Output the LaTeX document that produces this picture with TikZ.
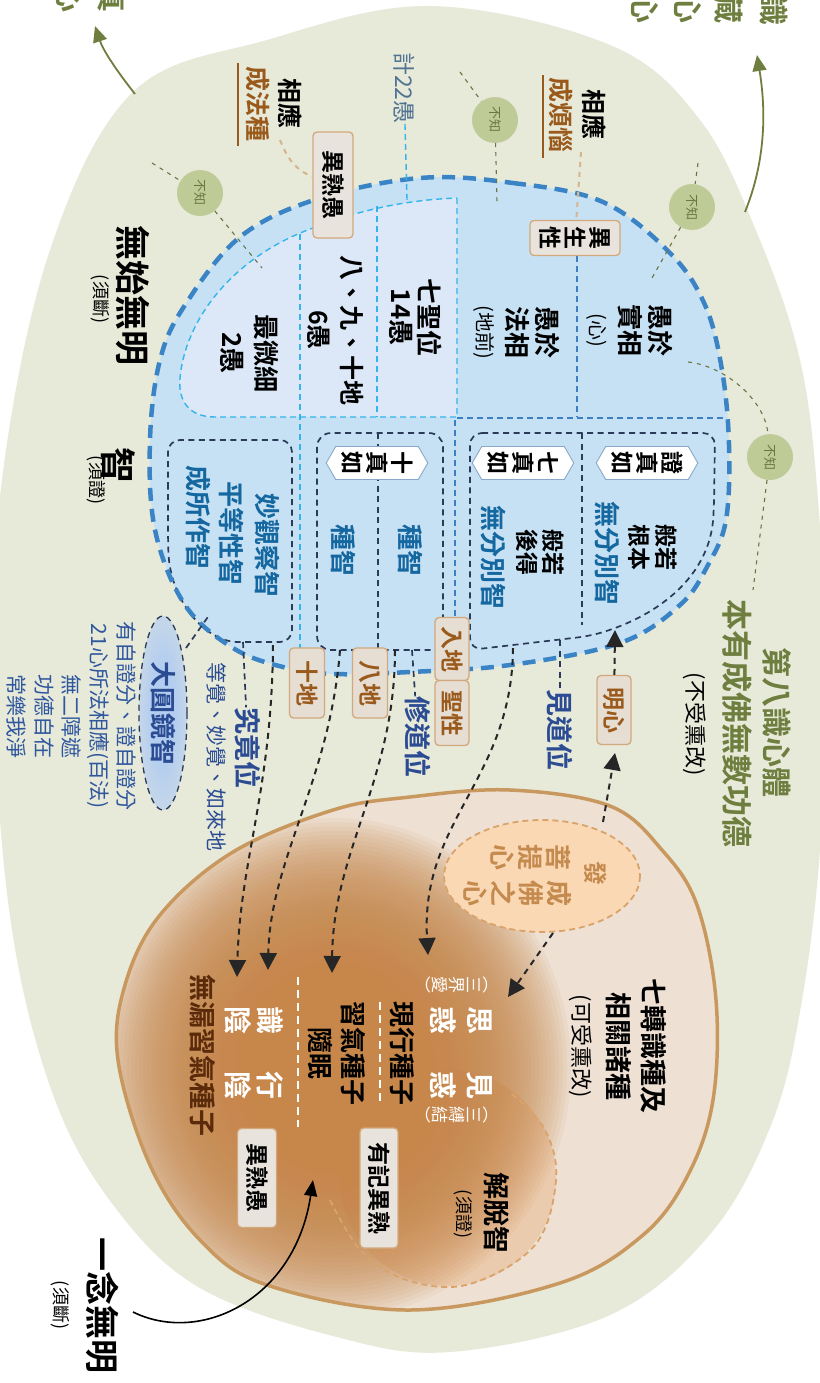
\documentclass[tikz,border=0pt]{standalone}
\usepackage{fontspec}
\setmainfont{Noto Sans CJK TC}[BoldFont={Noto Sans CJK TC Bold}]
\usetikzlibrary{arrows.meta,shapes.symbols}
\definecolor{beige}{HTML}{E7E9D9}
\definecolor{olivec}{HTML}{6E7E3E}
\definecolor{olivedk}{HTML}{6A7546}
\definecolor{bzin}{HTML}{BFCB97}
\definecolor{bluefill}{HTML}{C6E1F4}
\definecolor{lightin}{HTML}{DCE8F7}
\definecolor{borderblue}{HTML}{3A84C6}
\definecolor{cyanc}{HTML}{33B5EC}
\definecolor{midblue}{HTML}{3D7FC3}
\definecolor{navyc}{HTML}{2A3A58}
\definecolor{textblue}{HTML}{15679F}
\definecolor{darkblue}{HTML}{2B4C93}
\definecolor{listblue}{HTML}{2F579E}
\definecolor{hexborder}{HTML}{8AA8C8}
\definecolor{tanborder}{HTML}{D2A97C}
\definecolor{tanfill}{HTML}{E6DDD3}
\definecolor{grayfill}{HTML}{E8E3DC}
\definecolor{brownt}{HTML}{9A5A1C}
\definecolor{tanlc}{HTML}{D6B48C}
\definecolor{brownfill}{HTML}{EEE0D3}
\definecolor{brownborder}{HTML}{C9985E}
\definecolor{browncore}{HTML}{C7874A}
\definecolor{peach}{HTML}{FAD8B4}
\definecolor{peachdash}{HTML}{D9A36A}
\definecolor{peachtxt}{HTML}{C48A4E}
\definecolor{jtfill}{HTML}{EBCBAD}
\definecolor{darkbr}{HTML}{5A2A0A}
\definecolor{dyin}{HTML}{B3CDF0}
\definecolor{calcc}{HTML}{4F7391}
\newcommand\myfs[2]{\fontsize{#1}{#2}\selectfont}
\pgfdeclareradialshading{bzshade}{\pgfpoint{0bp}{0bp}}{color(0bp)=(bzin); color(24bp)=(bzin); color(50bp)=(beige)}
\pgfdeclareradialshading{dyshade}{\pgfpoint{0bp}{0bp}}{color(0bp)=(dyin); color(12bp)=(dyin); color(50bp)=(beige)}
\begin{document}
\begin{tikzpicture}[x=1pt,y=-1pt,
  vtxt/.style={rotate=-90, inner sep=0pt, align=center},
  blk/.style={vtxt, text=black, font=\myfs{26}{30}\bfseries},
  bluet/.style={vtxt, text=textblue, font=\myfs{26}{30}\bfseries},
  tanbox/.style={rotate=-90, draw=tanborder, fill=tanfill, line width=1.3pt, rounded corners=4pt, inner sep=0pt, align=center, text=brownt, font=\myfs{23}{25}\bfseries},
  graybox/.style={tanbox, text=black, fill=grayfill},
  hexlab/.style={rotate=-90, shape=signal, signal to=north and south, signal pointer angle=120, draw=hexborder, fill=white, line width=0.9pt, inner sep=1pt, align=center, font=\myfs{23}{25}\bfseries, minimum width=33pt, minimum height=97pt},
  navydash/.style={draw=navyc, line width=1.7pt, dash pattern=on 6pt off 4.5pt},
  cyandash/.style={draw=cyanc, line width=1.4pt, dash pattern=on 6pt off 4pt},
  middash/.style={draw=midblue, line width=1.6pt, dash pattern=on 6pt off 4pt},
  bluedash/.style={draw=borderblue, line width=4.5pt, dash pattern=on 13pt off 8pt},
  bzline/.style={draw=olivedk, line width=1.1pt, dash pattern=on 4pt off 5pt},
  tandash/.style={draw=tanlc, line width=2pt, dash pattern=on 5pt off 5pt},
  arrowdash/.style={draw=black!85, line width=2pt, dash pattern=on 6pt off 5pt, -{Triangle[length=17pt,width=17pt]}},
  olivearrow/.style={draw=olivec, line width=1.8pt, -{Triangle[length=16pt,width=14pt]}},
  bzcirc/.style={circle, minimum size=46pt, inner sep=0pt, shading=bzshade, rotate=-90, text=olivedk, font=\myfs{13}{14}},
]
\useasboundingbox (0,0) rectangle (819,1383);
\fill[white] (0,0) rectangle (819,1383);
% ---------- beige field
\fill[beige] plot[smooth cycle, tension=0.6] coordinates {(430,6) (610,45) (700,120) (757,233) (800,360) (818,500) (826,680) (820,850) (802,1000) (773,1120) (712,1232) (610,1315) (450,1352) (333,1336) (200,1288) (117,1210) (55,1100) (12,930) (-6,700) (2,480) (50,250) (133,92) (267,40)};
% ---------- olive arrows and cut texts
\coordinate (la0) at (135,94); \coordinate (la1) at (95,26);
\draw[olivearrow] (la0) .. controls (116,70) and (103,50) .. (la1);
\coordinate (ra0) at (745,212); \coordinate (ra1) at (757,55);
\draw[olivearrow] (ra0) .. controls (766,160) and (766,110) .. (ra1);
\node[vtxt, text=olivec, font=\myfs{30}{30}\bfseries] (tl1) at (70,-2) {心};
\node[vtxt, text=olivec, font=\myfs{30}{30}\bfseries] (tl2) at (112,-2) {真};
\node[vtxt, text=olivec, font=\myfs{30}{30}\bfseries] (tr1) at (645,9) {心};
\node[vtxt, text=olivec, font=\myfs{30}{30}\bfseries] (tr2) at (688,9) {心};
\node[vtxt, text=olivec, font=\myfs{30}{30}\bfseries] (tr3) at (729,9) {藏};
\node[vtxt, text=olivec, font=\myfs{30}{30}\bfseries] (tr4) at (774,11) {識};
% ---------- blue region
\fill[bluefill] plot[smooth cycle, tension=0.6] coordinates {(420,178) (513,183) (603,202) (670,253) (705,305) (722,370) (729,445) (726,520) (708,565) (680,605) (620,643) (510,665) (410,672) (333,674) (283,667) (233,648) (185,605) (155,530) (150,440) (160,360) (185,305) (240,237) (317,199)};
\path[fill=lightin, cyandash] (457,198) -- (457,417) -- (215,417) .. controls (188,417) and (178,400) .. (180,378) .. controls (185,322) and (230,258) .. (313,228) .. controls (360,210) and (405,200) .. (457,198) -- cycle;
\coordinate (d1a) at (300,234); \coordinate (d1b) at (300,648);
\draw[cyandash] (d1a) -- (d1b);
\coordinate (d2a) at (377,206); \coordinate (d2b) at (377,417);
\draw[cyandash] (d2a) -- (d2b);
\coordinate (d3a) at (577,256); \coordinate (d3b) at (577,417);
\draw[middash] (d3a) -- (d3b);
\coordinate (h1a) at (457,418); \coordinate (h1b) at (726,418);
\draw[middash] (h1a) -- (h1b);
\coordinate (d4a) at (455,420); \coordinate (d4b) at (455,617);
\draw[middash] (d4a) -- (d4b);
% navy boxes
\draw[navydash, rounded corners=12pt] (168,500) -- (168,440) -- (292,440) -- (292,642) -- (250,642) .. controls (205,642) and (170,600) .. (168,540) -- cycle;
\draw[navydash, rounded corners=14pt] (317,433) rectangle (443,650);
\coordinate (bda) at (378,433); \coordinate (bdb) at (378,650);
\draw[navydash] (bda) -- (bdb);
\draw[navydash, rounded corners=12pt] (470,433) -- (715,433) -- (714,505) .. controls (710,575) and (660,615) .. (590,636) -- (470,650) -- cycle;
\coordinate (ada) at (582,433); \coordinate (adb) at (582,625);
\draw[navydash] (ada) -- (adb);
% blue border
\draw[bluedash] plot[smooth cycle, tension=0.6] coordinates {(420,178) (513,183) (603,202) (670,253) (705,305) (722,370) (729,445) (726,520) (708,565) (680,605) (620,643) (510,665) (410,672) (333,674) (283,667) (233,648) (185,605) (155,530) (150,440) (160,360) (185,305) (240,237) (317,199)};
% ---------- "不知" circles
\node[bzcirc] (bz1) at (200,193) {不知};
\node[bzcirc] (bz2) at (495,120) {不知};
\node[bzcirc] (bz3) at (692,207) {不知};
\node[bzcirc] (bz4) at (770,457) {不知};
\coordinate (bza0) at (152,163); \coordinate (bza1) at (262,268);
\draw[bzline] (bza0) -- (bz1); \draw[bzline] (bz1) -- (bza1);
\coordinate (bzb0) at (460,72); \coordinate (bzb1) at (497,202);
\draw[bzline] (bzb0) -- (bz2); \draw[bzline] (bz2) -- (bzb1);
\coordinate (bzc0) at (698,163); \coordinate (bzc1) at (652,278);
\draw[bzline] (bzc0) -- (bz3); \draw[bzline] (bz3) -- (bzc1);
\coordinate (bzd0) at (688,362); \coordinate (bzd1) at (753,590);
\draw[bzline] (bzd0) .. controls (725,366) and (765,400) .. (bz4); \draw[bzline] (bz4) -- (bzd1);
% ---------- upper labels
\node[vtxt, font=\myfs{25}{32}\bfseries] (xyfz) at (274,104) {相應\\\textcolor{brownt}{成法種}};
\coordinate (ul1a) at (238,63); \coordinate (ul1b) at (238,146);
\draw[brownt, line width=2pt] (ul1a) -- (ul1b);
\node[vtxt, font=\myfs{25}{33}\bfseries] (xyfn) at (578,115) {相應\\\textcolor{brownt}{成煩惱}};
\coordinate (ul2a) at (543,75); \coordinate (ul2b) at (543,158);
\draw[brownt, line width=2pt] (ul2a) -- (ul2b);
\node[vtxt, text=calcc, font=\myfs{23}{25}] (ji22) at (404,88) {計22愚};
\coordinate (j22b) at (407,200);
\draw[cyandash] (ji22) -- (j22b);
\node[tanbox, text=black, fill=grayfill, minimum width=106pt, minimum height=40pt] (ysy1) at (333,185) {異熟愚};
\node[tanbox, text=black, fill=grayfill, minimum width=35pt, minimum height=90pt] (ysx) at (575,238) {異\\生\\性};
\coordinate (tl1a) at (280,140);
\draw[tandash] (tl1a) .. controls (288,160) and (296,170) .. (ysy1);
\coordinate (tl2a) at (581,152);
\draw[tandash] (tl2a) -- (ysx);
\node[vtxt, font=\myfs{35}{38}\bfseries] (wswm) at (133,295) {無始無明};
\node[vtxt, font=\myfs{18}{20}] (xd1) at (100,299) {(須斷)};
\node[vtxt, font=\myfs{36}{38}\bfseries] (zhi) at (118,465) {智};
\node[vtxt, font=\myfs{18}{20}] (xz1) at (96,480) {(須證)};
\node[vtxt, text=olivec, font=\myfs{30}{32}\bfseries] (dbs) at (777,722) {第八識心體};
\node[vtxt, text=olivec, font=\myfs{31}{33}\bfseries] (byc) at (737,723) {本有成佛無數功德};
\node[vtxt, font=\myfs{22}{24}] (bsxg) at (695,724) {(不受熏改)};
% ---------- blue region texts
\node[blk, font=\myfs{26}{34}\bfseries] (zws) at (250,353) {最微細\\2愚};
\node[blk, font=\myfs{25}{33}\bfseries] (bjs) at (336,330) {八、九、十地\\6愚};
\node[blk, font=\myfs{26}{28}\bfseries] (qsw) at (416,317) {七聖位\\14愚};
\node[blk, font=\myfs{26}{30}\bfseries] (yfx) at (517,332) {愚於\\法相\\{\mdseries\myfs{20}{30}(地前)}};
\node[blk, font=\myfs{26}{30}\bfseries] (ysxx) at (630,330) {愚於\\實相\\{\mdseries\myfs{20}{30}(心)}};
\node[hexlab] (hx1) at (377,463) {十\\真\\如};
\node[hexlab] (hx2) at (523,463) {七\\真\\如};
\node[hexlab] (hx3) at (647,463) {證\\真\\如};
\node[bluet] (zz1) at (343,550) {種智};
\node[bluet] (zz2) at (410,550) {種智};
\node[blk, font=\myfs{23}{27}\bfseries] (bgg) at (653,547) {般若\\根本};
\node[bluet] (wf1) at (607,553) {無分別智};
\node[blk, font=\myfs{23}{26}\bfseries] (bgh) at (540,552) {般若\\後得};
\node[bluet] (wf2) at (493,557) {無分別智};
\node[bluet] (mgc) at (267,545) {妙觀察智};
\node[bluet] (pdx) at (232,533) {平等性智};
\node[bluet] (csz) at (198,517) {成所作智};
% ---------- below blue
\node[tanbox, minimum width=70pt, minimum height=35pt] (sd) at (307,683) {十地};
\node[tanbox, minimum width=70pt, minimum height=35pt] (bd) at (370,683) {八地};
\node[tanbox, minimum width=63pt, minimum height=34pt] (rd) at (452,649) {入地};
\node[tanbox, minimum width=65pt, minimum height=34pt] (sxx) at (452,713) {聖性};
\node[tanbox, minimum width=69pt, minimum height=34pt] (mx) at (614,710) {明心};
\node[vtxt, text=darkblue, font=\myfs{27}{30}\bfseries] (jdw) at (560,730) {見道位};
\node[vtxt, text=darkblue, font=\myfs{27}{30}\bfseries] (xdw) at (418,737) {修道位};
\node[vtxt, text=darkblue, font=\myfs{27}{30}\bfseries] (jjw) at (248,748) {究竟位};
\node[vtxt, text=darkblue, font=\myfs{21}{24}] (djm) at (217,757) {等覺、妙覺、如來地};
\shade[shading=dyshade] (163,713) ellipse [x radius=24, y radius=97];
\draw[navydash, line width=1.3pt] (163,713) ellipse [x radius=24, y radius=97];
\node[vtxt, text=darkblue, font=\myfs{26}{28}\bfseries] (dyj) at (163,713) {大圓鏡智};
\node[vtxt, text=listblue, font=\myfs{21}{27.5}] (lst) at (72,716) {有自證分、證自證分\\21心所法相應(百法)\\無二障遮\\功德自在\\常樂我淨};
% short links
\coordinate (ja) at (560,640); \draw[navydash] (ja) -- (jdw);
\coordinate (xa) at (412,650); \draw[navydash] (xa) -- (xdw);
\coordinate (jja) at (243,642); \draw[navydash] (jja) -- (jjw);
\coordinate (dya) at (186,648); \coordinate (dyb) at (210,614); \draw[navydash] (dya) -- (dyb);
% ---------- brown region
\fill[brownfill] plot[smooth cycle, tension=0.6] coordinates {(410,797) (510,790) (610,806) (662,850) (697,905) (716,1000) (713,1100) (688,1175) (643,1235) (560,1283) (410,1310) (267,1285) (200,1240) (150,1165) (118,1060) (125,985) (160,915) (233,852) (333,810)};
\fill[jtfill] (448,1178) circle (108);
\begin{scope}
\clip plot[smooth cycle, tension=0.6] coordinates {(410,797) (510,790) (610,806) (662,850) (697,905) (716,1000) (713,1100) (688,1175) (643,1235) (560,1283) (410,1310) (267,1285) (200,1240) (150,1165) (118,1060) (125,985) (160,915) (233,852) (333,810)};
\foreach \r in {0,...,49} {
  \fill[browncore, opacity=0.08] (335,1068) ellipse [x radius={236-4*\r}, y radius={250-4.25*\r}];
}
\end{scope}
\draw[draw=peachdash, line width=1.8pt, dash pattern=on 6pt off 4pt] plot[smooth, tension=0.6] coordinates {(512,1094) (545,1130) (556,1180) (535,1245) (470,1284) (410,1281) (362,1252) (330,1200)};
\draw[brownborder, line width=3.5pt] plot[smooth cycle, tension=0.6] coordinates {(410,797) (510,790) (610,806) (662,850) (697,905) (716,1000) (713,1100) (688,1175) (643,1235) (560,1283) (410,1310) (267,1285) (200,1240) (150,1165) (118,1060) (125,985) (160,915) (233,852) (333,810)};
\path[fill=peach, draw=peachdash, line width=1.8pt, dash pattern=on 6pt off 4pt] (542,876) ellipse [x radius=98, y radius=56];
\coordinate (pktop) at (603,822); \coordinate (pkbot) at (553,933);
\node[vtxt, text=peachtxt, font=\myfs{24}{26}\bfseries] (fa) at (596,873) {發};
\node[vtxt, text=peachtxt, font=\myfs{26}{28}\bfseries] (ptx) at (531,857) {菩\\提\\心};
\node[vtxt, text=peachtxt, font=\myfs{26}{28}\bfseries] (cfz) at (518,893) {成\\佛\\之\\心};
% white separators
\coordinate (w1a) at (380,1002); \coordinate (w1b) at (380,1102);
\draw[white, line width=2pt, dash pattern=on 8pt off 5pt] (w1a) -- (w1b);
\coordinate (w2a) at (298,977); \coordinate (w2b) at (298,1127);
\draw[white, line width=2pt, dash pattern=on 8pt off 5pt] (w2a) -- (w2b);
% brown texts
\node[vtxt, font=\myfs{27}{35}\bfseries] (qzs) at (618,1046) {七轉識種及\\相關諸種\\{\mdseries\myfs{22}{35}(可受熏改)}};
\node[vtxt, text=white, font=\myfs{28}{37}\bfseries] (shh) at (461,1020) {思\\惑};
\node[vtxt, text=white, font=\myfs{28}{37}\bfseries] (jhh) at (461,1085) {見\\惑};
\node[vtxt, text=white, font=\myfs{17}{17}] (sja) at (452,985) {︵\\三\\界\\愛\\︶};
\node[vtxt, text=white, font=\myfs{17}{17}] (sfj) at (452,1115) {︵\\三\\縛\\結\\︶};
\node[blk] (xxzz) at (402,1053) {現行種子};
\node[blk] (xqzz) at (353,1053) {習氣種子};
\node[blk] (sm) at (320,1053) {隨眠};
\node[vtxt, text=white, font=\myfs{28}{32}\bfseries] (sy) at (254,1020) {識\\陰};
\node[vtxt, text=white, font=\myfs{28}{32}\bfseries] (xy) at (254,1085) {行\\陰};
\node[vtxt, text=darkbr, font=\myfs{27}{30}\bfseries] (wlxq) at (203,1055) {無漏習氣種子};
\node[graybox, minimum width=99pt, minimum height=39pt] (ysy2) at (257,1178) {異熟愚};
\node[graybox, minimum width=120pt, minimum height=38pt] (yjys) at (379,1188) {有記異熟};
\node[vtxt, font=\myfs{27}{30}\bfseries] (jtz) at (497,1213) {解脫智};
\node[vtxt, font=\myfs{18}{20}] (xz2) at (463,1214) {(須證)};
\node[vtxt, font=\myfs{34}{36}\bfseries] (ynwm) at (103,1305) {一念無明};
\node[vtxt, font=\myfs{18}{20}] (xd2) at (60,1305) {(須斷)};
% ---------- arrows
\coordinate (c1) at (273,645); \coordinate (t1) at (237,977);
\draw[arrowdash] (c1) .. controls (272,790) and (240,860) .. (t1);
\coordinate (b1) at (340,650); \coordinate (t2) at (268,970);
\draw[arrowdash] (b1) .. controls (330,780) and (270,860) .. (t2);
\coordinate (b2) at (395,650); \coordinate (t3) at (332,973);
\draw[arrowdash] (b2) .. controls (395,780) and (333,850) .. (t3);
\coordinate (a1) at (513,648); \coordinate (t4) at (428,955);
\draw[arrowdash] (a1) .. controls (512,780) and (420,820) .. (t4);
\coordinate (t5) at (508,997);
\draw[arrowdash] (pkbot) -- (t5);
\coordinate (mxup) at (615,630);
\draw[arrowdash] (mx) -- (mxup);
\coordinate (mxlow) at (615,753);
\draw[arrowdash] (pktop) -- (mxlow);
\coordinate (yn0) at (133,1312); \coordinate (yn1) at (313,1180);
\draw[black, line width=1.6pt, -{Triangle[length=16pt,width=13pt]}] (yn0) .. controls (200,1345) and (295,1300) .. (yn1);
\end{tikzpicture}
\end{document}
